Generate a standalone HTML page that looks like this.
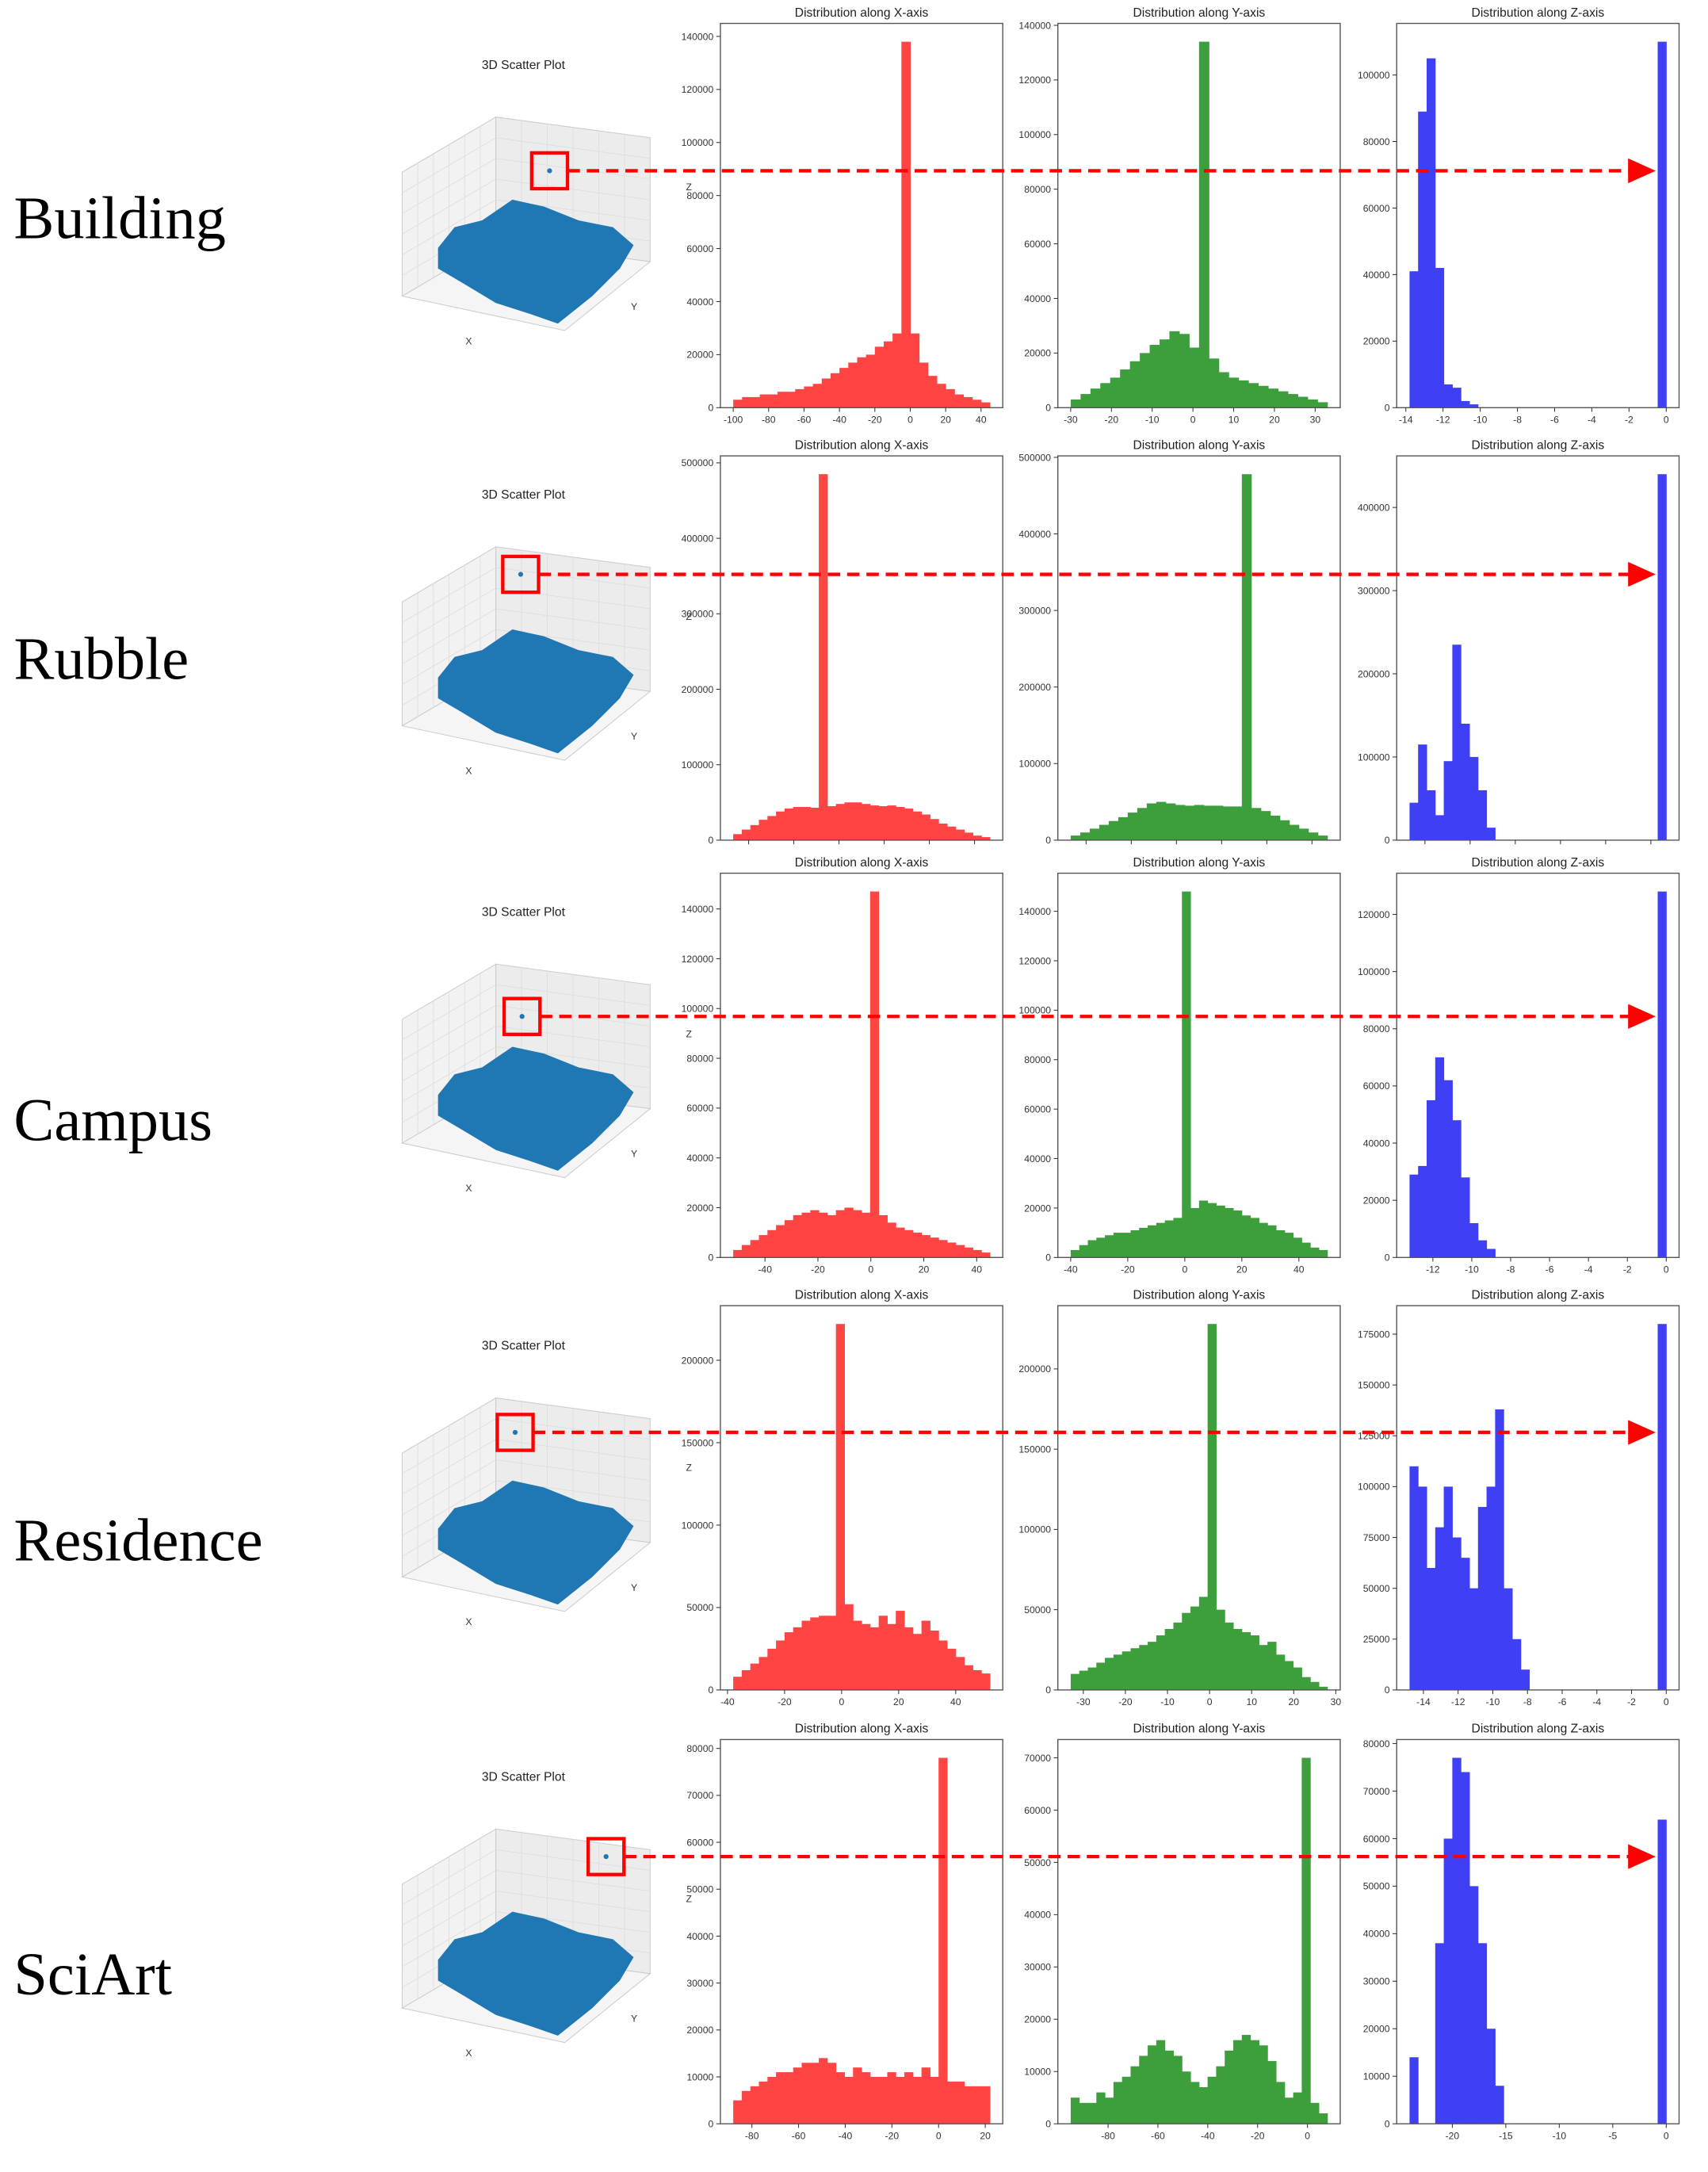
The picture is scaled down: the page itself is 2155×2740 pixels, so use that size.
<!DOCTYPE html>
<html><head><meta charset="utf-8">
<style>
html,body{margin:0;padding:0;background:#fff;}
svg{display:block;}
</style></head>
<body>
<svg id="fig" xmlns="http://www.w3.org/2000/svg" width="2155" height="2740" viewBox="0 0 1240 1577" preserveAspectRatio="none" font-family="'Liberation Sans', sans-serif">
</svg>
<script>
// ===== data (thousands of points per bin) =====
const rowNames = ["Building","Rubble","Campus","Residence","SciArt"];
const buildingX = [3,4,4,5,5,6,6,7,8,9,11,13,15,17,19,20,23,25,28,138,28,17,12,9,7,5,4,3,2];
const buildingY = [3,5,7,9,11,14,17,20,23,25,28,27,22,134,18,13,11,10,9,8,7,6,5,4,3,2];
const buildingZ = [41,89,105,42,7,6,2,1,0,0,0,0,0,0,0,0,0,0,0,0,0,0,0,0,0,0,0,0,0,110];
const rubbleX = [8,14,20,27,32,38,42,44,44,43,485,45,48,50,50,48,46,45,46,44,42,38,34,28,22,18,14,10,6,4];
const rubbleY = [6,10,15,20,25,30,36,42,48,50,48,46,45,46,45,45,44,44,478,42,38,32,26,20,15,10,6];
const rubbleZ = [45,115,60,30,95,235,140,100,60,15,0,0,0,0,0,0,0,0,0,0,0,0,0,0,0,0,0,0,0,440];
const campusX = [3,5,7,9,11,13,15,17,18,19,18,17,19,20,19,18,147,17,14,12,11,10,9,8,7,6,5,4,3,2];
const campusY = [3,5,7,8,9,10,10,11,12,13,14,15,16,148,20,23,22,21,20,19,17,16,14,13,11,10,8,6,4,3];
const campusZ = [29,32,55,70,62,48,28,12,6,3,0,0,0,0,0,0,0,0,0,0,0,0,0,0,0,0,0,0,0,128];
const residenceX = [8,12,16,20,25,30,35,38,42,44,45,45,222,52,42,40,38,45,40,48,38,34,42,36,30,25,20,15,12,10];
const residenceY = [10,12,14,17,20,22,24,26,28,30,34,38,42,48,52,58,228,50,42,38,36,34,28,30,22,18,14,8,5,2];
const residenceZ = [110,100,60,80,100,75,65,50,90,100,138,50,25,10,0,0,0,0,0,0,0,0,0,0,0,0,0,0,0,180];
const sciartX = [5,7,8,9,10,11,11,12,13,13,14,13,11,10,12,11,10,10,11,10,11,10,12,10,78,9,9,8,8,8];
const sciartY = [5,4,4,6,5,8,9,11,13,15,16,14,13,10,8,7,9,11,14,16,17,16,15,12,8,5,6,70,4,2];
const sciartZ = [14,0,0,38,60,77,74,50,38,20,8,0,0,0,0,0,0,0,0,0,0,0,0,0,0,0,0,0,0,64];
const xRanges = [[-100,45],[0,1],[-52,45],[-38,52],[-88,22]];
const yRanges = [[-30,33],[0,1],[-40,50],[-33,28],[-95,8]];
const zRanges = [[-13.8,0],[-14,0],[-13.2,0],[-14.8,0],[-24,0]];
const xTicks = [[-100,-80,-60,-40,-20,0,20,40],[],[-40,-20,0,20,40],[-40,-20,0,20,40],[-80,-60,-40,-20,0,20]];
const yTicks = [[-30,-20,-10,0,10,20,30],[],[-40,-20,0,20,40],[-30,-20,-10,0,10,20,30],[-80,-60,-40,-20,0]];
const zTicks = [[-14,-12,-10,-8,-6,-4,-2,0],[],[-12,-10,-8,-6,-4,-2,0],[-14,-12,-10,-8,-6,-4,-2,0],[-20,-15,-10,-5,0]];
const countTicksX = [[0,20,40,60,80,100,120,140],[0,100,200,300,400,500],[0,20,40,60,80,100,120,140],[0,50,100,150,200],[0,10,20,30,40,50,60,70,80]];
const countTicksY = [[0,20,40,60,80,100,120,140],[0,100,200,300,400,500],[0,20,40,60,80,100,120,140],[0,50,100,150,200],[0,10,20,30,40,50,60,70]];
const countTicksZ = [[0,20,40,60,80,100],[0,100,200,300,400],[0,20,40,60,80,100,120],[0,25,50,75,100,125,150,175],[0,10,20,30,40,50,60,70,80]];
const arrowYs = [124,417,738,1040,1348];

const NS="http://www.w3.org/2000/svg";
const svg=document.getElementById('fig');
function mk(tag,attrs,parent,text){const e=document.createElementNS(NS,tag);for(const k in attrs)e.setAttribute(k,attrs[k]);if(text!==undefined)e.textContent=text;(parent||svg).appendChild(e);return e;}
const frameTops=[17,331,634,948,1263];
const frameH=279;
const colX=[523,768,1014];
const colW=205;
const colors=["#ff4444","#3c9f3c","#3f3ff5"];
const titles=["Distribution along X-axis","Distribution along Y-axis","Distribution along Z-axis"];
const allData=[[buildingX,buildingY,buildingZ],[rubbleX,rubbleY,rubbleZ],[campusX,campusY,campusZ],[residenceX,residenceY,residenceZ],[sciartX,sciartY,sciartZ]];
const allRanges=[xRanges,yRanges,zRanges];
const allTicks=[xTicks,yTicks,zTicks];
const allCTicks=[countTicksX,countTicksY,countTicksZ];
const labelY=[160,480,815,1120,1435];

function drawHist(r,c){
  const vals=allData[r][c], rng=allRanges[c][r], ticks=allTicks[c][r], cticks=allCTicks[c][r];
  const x0=colX[c], y0=frameTops[r];
  const g=mk('g',{});
  
  
  const ymax=Math.max(...vals)*1.05;
  const span=rng[1]-rng[0];
  const dmin=rng[0]-span*0.05, dmax=rng[1]+span*0.05;
  const sx=v=>x0+(v-dmin)/(dmax-dmin)*colW;
  const sy=v=>y0+frameH-v/ymax*frameH;
  const bw=span/vals.length;
  vals.forEach((v,i)=>{
    if(v<=0)return;
    const a=sx(rng[0]+i*bw), b=sx(rng[0]+(i+1)*bw);
    const rect=mk('rect',{x:a,y:sy(v),width:b-a+0.3,height:y0+frameH-sy(v),fill:colors[c]},g);
    
    
  });
  const fr=mk('rect',{x:x0,y:y0,width:colW,height:frameH,fill:'none',stroke:'#555','stroke-width':0.8},g);
  
  
  const t=mk('text',{x:x0+colW/2,y:y0-5,'font-size':9,'text-anchor':'middle',fill:'#222'},g,titles[c]);
  
  
  ticks.forEach(v=>{
    const x=sx(v);
    mk('line',{x1:x,x2:x,y1:y0+frameH,y2:y0+frameH+3,stroke:'#333','stroke-width':0.6},g);
    const tl=mk('text',{x:x,y:y0+frameH+11,'font-size':7,'text-anchor':'middle',fill:'#333'},g,String(v));
    
    
  });
  if(ticks.length===0){for(let k=0;k<6;k++){const x=x0+colW*(0.1+k*0.16);mk('line',{x1:x,x2:x,y1:y0+frameH,y2:y0+frameH+3,stroke:'#333','stroke-width':0.6},g);}}
  cticks.forEach(v=>{
    const yy=sy(v);
    if(yy<y0-1)return;
    mk('line',{x1:x0-3,x2:x0,y1:yy,y2:yy,stroke:'#333','stroke-width':0.6},g);
    const tl=mk('text',{x:x0-5,y:yy+2.5,'font-size':7,'text-anchor':'end',fill:'#333'},g,String(v*1000));
    
    
  });
}

function drawScatter(r){
  const oy=[0,312,615,930,1243][r];
  const g=mk('g',{});
  
  
  const t=mk('text',{x:380,y:oy+50,'font-size':9,'text-anchor':'middle',fill:'#222'},g,'3D Scatter Plot');
  
  
  mk('polygon',{points:`292,${oy+125} 360,${oy+85} 360,${oy+175} 292,${oy+215}`,fill:'#f2f2f2',stroke:'#ccc','stroke-width':0.6},g);
  mk('polygon',{points:`360,${oy+85} 472,${oy+100} 472,${oy+190} 360,${oy+175}`,fill:'#ececec',stroke:'#ccc','stroke-width':0.6},g);
  mk('polygon',{points:`292,${oy+215} 360,${oy+175} 472,${oy+190} 410,${oy+240}`,fill:'#f5f5f5',stroke:'#ccc','stroke-width':0.6},g);
  for(let k=1;k<6;k++){
    const f=k/6;
    mk('line',{x1:292,y1:oy+125+90*f,x2:360,y2:oy+85+90*f,stroke:'#ddd','stroke-width':0.5},g);
    mk('line',{x1:360,y1:oy+85+90*f,x2:472,y2:oy+100+90*f,stroke:'#ddd','stroke-width':0.5},g);
    mk('line',{x1:292+68*f,y1:oy+125-40*f,x2:292+68*f,y2:oy+215-40*f,stroke:'#ddd','stroke-width':0.5},g);
    mk('line',{x1:360+112*f,y1:oy+85+15*f,x2:360+112*f,y2:oy+175+15*f,stroke:'#ddd','stroke-width':0.5},g);
  }
  const blob=mk('path',{d:`M318,${oy+180} L330,${oy+165} L350,${oy+160} L372,${oy+145} L395,${oy+150} L420,${oy+160} L445,${oy+165} L460,${oy+178} L450,${oy+195} L430,${oy+215} L405,${oy+235} L385,${oy+228} L360,${oy+220} L335,${oy+205} L318,${oy+195} Z`,fill:'#1f77b4'},g);
  
  
  const xl=mk('text',{x:338,y:oy+250,'font-size':7,fill:'#333'},g,'X');
  
  
  const yl=mk('text',{x:458,y:oy+225,'font-size':7,fill:'#333'},g,'Y');
  
  
  const zl=mk('text',{x:498,y:oy+138,'font-size':7,fill:'#333'},g,'Z');
  
  
  const lab=mk('text',{x:10,y:labelY[r]+13,'font-size':44,'font-family':"'Liberation Serif', serif",fill:'#000'},null,rowNames[r]);
  
  
}

for(let r=0;r<5;r++){
  drawScatter(r);
  for(let c=0;c<3;c++) drawHist(r,c);
}
const boxX=[386,365,366,361,427];
for(let r=0;r<5;r++){
  const y=arrowYs[r];
  const b=mk('rect',{x:boxX[r],y:y-13,width:26,height:26,fill:'none',stroke:'#ff0000','stroke-width':2.5});
  
  
  mk('circle',{cx:boxX[r]+13,cy:y,r:1.8,fill:'#1f77b4'});
  const l=mk('line',{x1:boxX[r]+26,y1:y,x2:1183,y2:y,stroke:'#ff0000','stroke-width':2.5,'stroke-dasharray':'9,5'});
  
  
  const h=mk('polygon',{points:`1182,${y-9} 1202,${y} 1182,${y+9}`,fill:'#ff0000'});
  
  
}
</script>
</body></html>
